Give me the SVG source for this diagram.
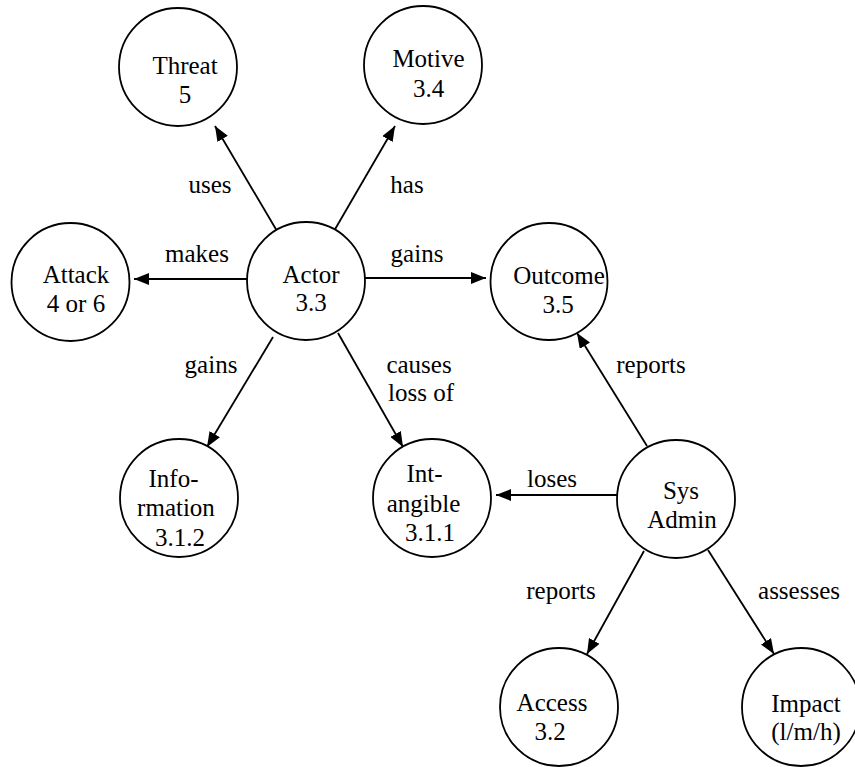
<svg xmlns="http://www.w3.org/2000/svg" width="855" height="767" viewBox="0 0 855 767">
  <style>
    .node circle { fill: #ffffff; stroke: #000000; stroke-width: 1.8; }
    text { font-family: "Liberation Serif", "Times New Roman", "DejaVu Serif", serif; font-size: 25px; fill: #000000; text-anchor: middle; }
    .edge line { stroke: #000000; stroke-width: 1.8; marker-end: url(#arrow); }
  </style>
  <defs>
    <marker id="arrow" markerUnits="userSpaceOnUse" markerWidth="16" markerHeight="12" refX="15" refY="6" orient="auto">
      <path d="M0,0 L15,6 L0,12 z" fill="#000000"/>
    </marker>
  </defs>

  <rect width="855" height="767" fill="#ffffff"/>

  <!-- connectors with their labels -->
  <g id="connectors" class="edge">
    <line x1="277" y1="231" x2="215" y2="126"/>
    <line x1="334" y1="231" x2="395" y2="126"/>
    <line x1="247" y1="279" x2="134" y2="279"/>
    <line x1="365" y1="278" x2="486" y2="278"/>
    <line x1="273" y1="337" x2="207" y2="447"/>
    <line x1="338" y1="333" x2="403" y2="447"/>
    <line x1="617" y1="495" x2="496" y2="495"/>
    <line x1="647" y1="446" x2="577" y2="333"/>
    <line x1="644" y1="551" x2="587" y2="654"/>
    <line x1="708" y1="550" x2="774" y2="654"/>
    <text x="210" y="193">uses</text>
    <text x="407" y="193">has</text>
    <text x="197" y="262">makes</text>
    <text x="417" y="262">gains</text>
    <text x="211" y="373">gains</text>
    <text x="419" y="373">causes</text>
    <text x="421" y="401">loss of</text>
    <text x="651" y="373">reports</text>
    <text x="552" y="487">loses</text>
    <text x="561" y="599">reports</text>
    <text x="799" y="599">assesses</text>
  </g>

  <g id="threat" class="node">
    <circle cx="178" cy="67" r="59"/>
    <text x="185" y="74">Threat</text>
    <text x="185" y="103">5</text>
  </g>
  <g id="motive" class="node">
    <circle cx="423" cy="65" r="59"/>
    <text x="428.5" y="67">Motive</text>
    <text x="428.5" y="97">3.4</text>
  </g>
  <g id="attack" class="node">
    <circle cx="70.5" cy="282" r="59"/>
    <text x="76" y="283">Attack</text>
    <text x="76" y="312">4 or 6</text>
  </g>
  <g id="actor" class="node">
    <circle cx="306" cy="281" r="59"/>
    <text x="311" y="283">Actor</text>
    <text x="311" y="311">3.3</text>
  </g>
  <g id="outcome" class="node">
    <circle cx="549" cy="281.5" r="58.5"/>
    <text x="559" y="284">Outcome</text>
    <text x="558" y="313">3.5</text>
  </g>
  <g id="information" class="node">
    <circle cx="179" cy="498" r="59"/>
    <text x="173.5" y="487">Info-</text>
    <text x="176" y="516">rmation</text>
    <text x="180" y="546">3.1.2</text>
  </g>
  <g id="intangible" class="node">
    <circle cx="432" cy="498" r="59"/>
    <text x="424.5" y="482">Int-</text>
    <text x="423.5" y="512">angible</text>
    <text x="430" y="541">3.1.1</text>
  </g>
  <g id="sysadmin" class="node">
    <circle cx="676" cy="499" r="59"/>
    <text x="681" y="499">Sys</text>
    <text x="682" y="528">Admin</text>
  </g>
  <g id="access" class="node">
    <circle cx="559" cy="707" r="59"/>
    <text x="552" y="711">Access</text>
    <text x="550" y="740">3.2</text>
  </g>
  <g id="impact" class="node">
    <circle cx="801" cy="707" r="59"/>
    <text x="806" y="712">Impact</text>
    <text x="806" y="740">(l/m/h)</text>
  </g>
</svg>
